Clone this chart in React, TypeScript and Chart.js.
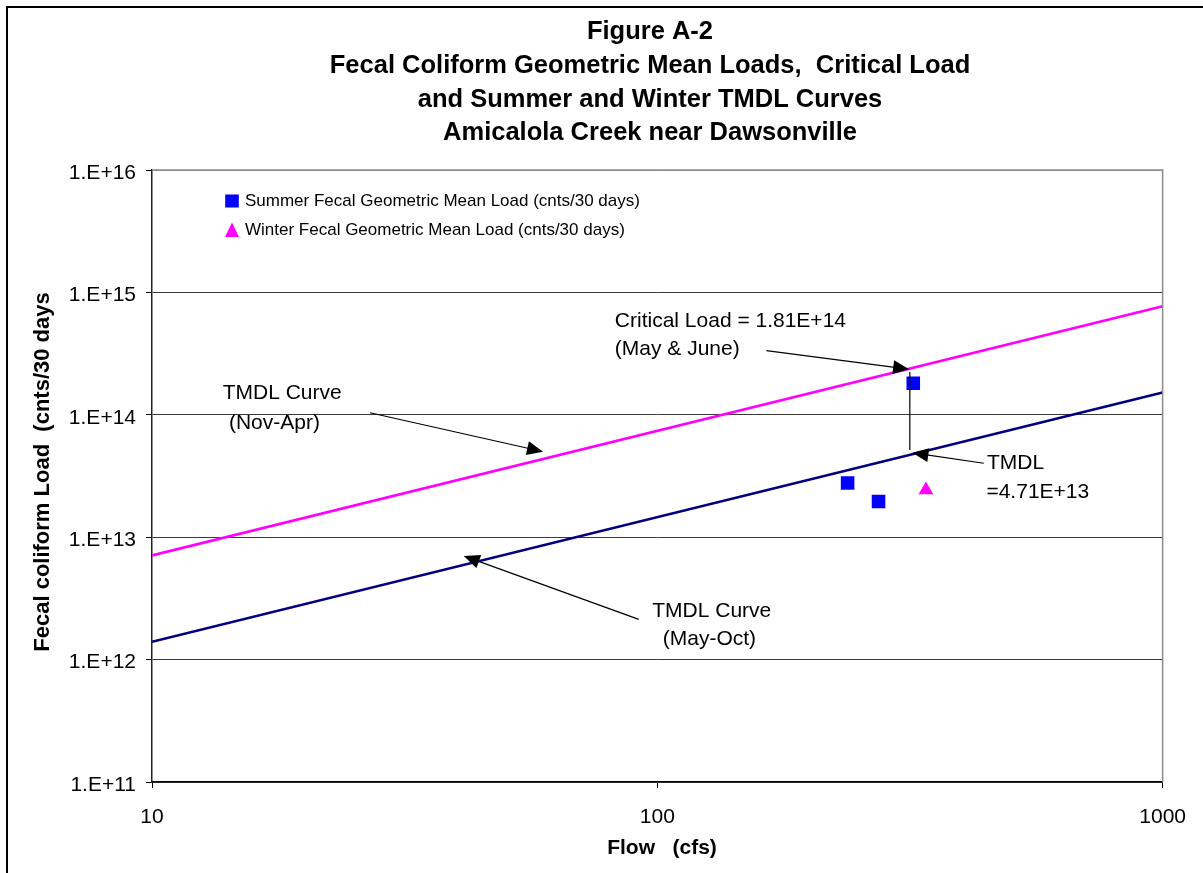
import { useEffect, useRef } from 'react';
import { Chart, registerables } from 'chart.js';

Chart.register(...registerables);

const FONT = "'Liberation Sans', Arial, Helvetica, sans-serif";

const titleLines = [
  'Figure A-2',
  'Fecal Coliform Geometric Mean Loads,  Critical Load',
  'and Summer and Winter TMDL Curves',
  'Amicalola Creek near Dawsonville',
];
const xAxisTitle = 'Flow   (cfs)';
const yAxisTitle = 'Fecal coliform Load  (cnts/30 days';

const xTickValues = [10, 100, 1000];
const xTickLabels = ['10', '100', '1000'];
const yTickValues = [1e11, 1e12, 1e13, 1e14, 1e15, 1e16];
const yTickLabels = ['1.E+11', '1.E+12', '1.E+13', '1.E+14', '1.E+15', '1.E+16'];

// Observed geometric mean loads
const summerFlow = [321, 238, 274];
const summerLoad = [1.81e14, 2.77e13, 1.96e13];
const winterFlow = [340];
const winterLoad = [2.43e13];

// TMDL curves (straight lines on log-log axes)
const curveFlow = [10, 1000];
const winterTmdlCurve = [7.1e12, 7.7e14];
const summerTmdlCurve = [1.4e12, 1.52e14];

const legendLabels = [
  'Summer Fecal Geometric Mean Load (cnts/30 days)',
  'Winter Fecal Geometric Mean Load (cnts/30 days)',
];

// Callout text: left edge / vertical middle anchored at (flow, load)
const calloutTexts = [
  { text: 'TMDL Curve', flow: 13.8, load: 1.51e14 },
  { text: '(Nov-Apr)', flow: 14.2, load: 8.61e13 },
  { text: 'Critical Load = 1.81E+14', flow: 82.4, load: 5.83e14 },
  { text: '(May & June)', flow: 82.4, load: 3.45e14 },
  { text: 'TMDL', flow: 449, load: 4.04e13 },
  { text: '=4.71E+13', flow: 448, load: 2.31e13 },
  { text: 'TMDL Curve', flow: 97.7, load: 2.49e12 },
  { text: '(May-Oct)', flow: 102.5, load: 1.47e12 },
];

// Callout arrows: from label towards the curve
const calloutArrows = [
  { from: [27.0, 1.04e14], to: [59.4, 5.0e13], head: true },
  { from: [164.4, 3.34e14], to: [315, 2.36e14], head: true },
  { from: [316, 2.24e14], to: [316, 5.15e13], head: false },
  { from: [442.6, 4.02e13], to: [319.8, 4.9e13], head: true },
  { from: [91.9, 2.13e12], to: [41.4, 7.02e12], head: true },
];

const SUMMER_COLOR = '#0000FF';
const WINTER_COLOR = '#FF00FF';
const NAVY = '#000080';

const decorPlugin = {
  id: 'figureDecor',
  beforeDraw(chart: any) {
    const { ctx, width, height } = chart;
    ctx.save();
    ctx.fillStyle = '#ffffff';
    ctx.fillRect(0, 0, width, height);
    ctx.restore();
  },
  afterDatasetsDraw(chart: any) {
    const { ctx, scales } = chart;
    const px = (f: number) => scales.x.getPixelForValue(f);
    const py = (l: number) => scales.y.getPixelForValue(l);

    ctx.save();
    // arrows
    ctx.strokeStyle = '#000';
    ctx.fillStyle = '#000';
    ctx.lineWidth = 1.2;
    calloutArrows.forEach((a) => {
      const x1 = px(a.from[0]);
      const y1 = py(a.from[1]);
      const x2 = px(a.to[0]);
      const y2 = py(a.to[1]);
      const ang = Math.atan2(y2 - y1, x2 - x1);
      const headLen = a.head ? 16 : 0;
      const hw = 7;
      ctx.beginPath();
      ctx.moveTo(x1, y1);
      ctx.lineTo(x2 - Math.cos(ang) * headLen * 0.9, y2 - Math.sin(ang) * headLen * 0.9);
      ctx.stroke();
      if (a.head) {
        const bx = x2 - Math.cos(ang) * headLen;
        const by = y2 - Math.sin(ang) * headLen;
        ctx.beginPath();
        ctx.moveTo(x2, y2);
        ctx.lineTo(bx - Math.sin(ang) * hw, by + Math.cos(ang) * hw);
        ctx.lineTo(bx + Math.sin(ang) * hw, by - Math.cos(ang) * hw);
        ctx.closePath();
        ctx.fill();
      }
    });

    // callout text
    ctx.font = `21px ${FONT}`;
    ctx.textAlign = 'left';
    ctx.textBaseline = 'middle';
    calloutTexts.forEach((t) => {
      ctx.fillText(t.text, px(t.flow), py(t.load));
    });
    ctx.restore();
  },
  afterDraw(chart: any) {
    const { ctx, chartArea, width, height } = chart;
    const { left, right, top, bottom } = chartArea;
    ctx.save();

    // plot area top / right border
    ctx.strokeStyle = '#8c8c8c';
    ctx.lineWidth = 1.5;
    ctx.beginPath();
    ctx.moveTo(left, top);
    ctx.lineTo(right, top);
    ctx.lineTo(right, bottom);
    ctx.stroke();

    // outer frame
    ctx.strokeStyle = '#000';
    ctx.lineWidth = 2;
    ctx.beginPath();
    ctx.moveTo(7, height);
    ctx.lineTo(7, 7);
    ctx.lineTo(width, 7);
    ctx.stroke();

    // titles
    ctx.fillStyle = '#000';
    ctx.textAlign = 'center';
    ctx.textBaseline = 'middle';
    ctx.font = `bold 25.5px ${FONT}`;
    const titleY = [31.5, 66, 99.5, 133];
    titleLines.forEach((line, i) => ctx.fillText(line, 650, titleY[i]));

    ctx.font = `bold 21px ${FONT}`;
    ctx.fillText(xAxisTitle, 662, 848.5);

    ctx.save();
    ctx.translate(42.5, 472);
    ctx.rotate(-Math.PI / 2);
    ctx.font = `bold 22px ${FONT}`;
    ctx.fillText(yAxisTitle, 0, 0);
    ctx.restore();

    // legend inside the plot area
    const lx = left + 80;
    const rows = [top + 31, top + 60];
    ctx.fillStyle = SUMMER_COLOR;
    ctx.fillRect(lx - 6.8, rows[0] - 6.5, 13.6, 13);
    ctx.fillStyle = WINTER_COLOR;
    ctx.beginPath();
    ctx.moveTo(lx, rows[1] - 7.5);
    ctx.lineTo(lx + 7, rows[1] + 7);
    ctx.lineTo(lx - 7, rows[1] + 7);
    ctx.closePath();
    ctx.fill();
    ctx.fillStyle = '#000';
    ctx.textAlign = 'left';
    ctx.font = `17px ${FONT}`;
    legendLabels.forEach((label, i) => ctx.fillText(label, lx + 13, rows[i]));

    ctx.restore();
  },
};

export default function App() {
  const canvasRef = useRef<HTMLCanvasElement | null>(null);

  useEffect(() => {
    document.body.style.margin = '0';
    document.body.style.overflow = 'hidden';
    const canvas = canvasRef.current;
    if (!canvas) return;

    const chart = new Chart(canvas, {
      type: 'scatter',
      data: {
        datasets: [
          {
            label: legendLabels[0],
            data: summerFlow.map((f, i) => ({ x: f, y: summerLoad[i] })),
            pointStyle: 'rect',
            pointRadius: 9.6,
            backgroundColor: SUMMER_COLOR,
            borderWidth: 0,
            showLine: false,
          },
          {
            label: legendLabels[1],
            data: winterFlow.map((f, i) => ({ x: f, y: winterLoad[i] })),
            pointStyle: 'triangle',
            pointRadius: 8.5,
            backgroundColor: WINTER_COLOR,
            borderWidth: 0,
            showLine: false,
          },
          {
            label: 'TMDL Curve (Nov-Apr)',
            data: curveFlow.map((f, i) => ({ x: f, y: winterTmdlCurve[i] })),
            showLine: true,
            borderColor: WINTER_COLOR,
            borderWidth: 2.6,
            pointRadius: 0,
          },
          {
            label: 'TMDL Curve (May-Oct)',
            data: curveFlow.map((f, i) => ({ x: f, y: summerTmdlCurve[i] })),
            showLine: true,
            borderColor: NAVY,
            borderWidth: 2.6,
            pointRadius: 0,
          },
        ],
      },
      options: {
        responsive: false,
        animation: false,
        devicePixelRatio: 1,
        layout: { padding: { left: 0, top: 170, right: 40, bottom: 0 } },
        plugins: {
          legend: { display: false },
          title: { display: false },
          tooltip: { enabled: false },
        },
        scales: {
          x: {
            type: 'logarithmic',
            position: 'bottom',
            min: 10,
            max: 1000,
            afterBuildTicks: (axis: any) => {
              axis.ticks = xTickValues.map((v) => ({ value: v }));
            },
            afterFit: (axis: any) => {
              axis.height = 91;
            },
            ticks: {
              callback: (_v: any, i: number) => xTickLabels[i],
              font: { family: FONT, size: 21 },
              color: '#000',
              padding: 17,
              maxRotation: 0,
              autoSkip: false,
            },
            grid: { drawOnChartArea: false, drawTicks: true, tickLength: 6, color: '#000' },
            border: { display: true, color: '#000', width: 1.2 },
          },
          y: {
            type: 'logarithmic',
            min: 1e11,
            max: 1e16,
            afterBuildTicks: (axis: any) => {
              axis.ticks = yTickValues.map((v) => ({ value: v }));
            },
            afterFit: (axis: any) => {
              axis.width = 152;
            },
            ticks: {
              callback: (_v: any, i: number) => yTickLabels[i],
              font: { family: FONT, size: 21 },
              color: '#000',
              padding: 10,
              labelOffset: 3,
              autoSkip: false,
            },
            grid: {
              color: (c: any) => (c.tick && c.tick.value === 1e16 ? '#8c8c8c' : '#3a3a3a'),
              tickColor: '#000',
              tickLength: 6,
              lineWidth: 1,
            },
            border: { display: true, color: '#222', width: 1.5 },
          },
        },
      },
      plugins: [decorPlugin],
    } as any);

    return () => chart.destroy();
  }, []);

  return <canvas ref={canvasRef} width={1203} height={873} style={{ display: 'block' }} />;
}
